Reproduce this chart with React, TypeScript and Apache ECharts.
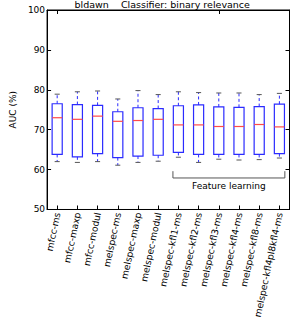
import React, { useEffect, useRef } from "react";
import * as echarts from "echarts";

const categories = [
  "mfcc-ms", "mfcc-maxp", "mfcc-modul", "melspec-ms", "melspec-maxp", "melspec-modul",
  "melspec-kfl1-ms", "melspec-kfl2-ms", "melspec-kfl3-ms", "melspec-kfl4-ms", "melspec-kfl8-ms",
  "melspec-kfl4pl8kfl4-ms",
];
const lows = [62.0, 61.8, 62.0, 61.1, 61.8, 62.1, 63.1, 61.8, 62.6, 62.4, 62.5, 62.9];
const q1s = [63.8, 63.2, 64.0, 63.0, 63.4, 63.6, 64.3, 63.8, 63.8, 63.8, 63.8, 64.0];
const medians = [73.0, 72.6, 73.4, 72.1, 72.3, 72.6, 71.2, 71.2, 70.8, 70.8, 71.3, 70.7];
const q3s = [76.5, 76.3, 76.1, 74.5, 75.5, 75.3, 76.0, 76.2, 75.7, 75.6, 75.8, 76.4];
const highs = [78.9, 79.5, 79.7, 77.7, 79.8, 78.8, 79.5, 79.3, 79.2, 79.2, 78.8, 79.1];
const yTicks = { min: 50, max: 100, interval: 10 };
const titleText = "bldawn    Classifier: binary relevance";
const bracketLabel = "Feature learning";
const bracketFirst = 6;
const bracketLast = 11;
const bracketTopValue = 59.6;
const bracketBottomValue = 57.9;
const bracketTextValue = 56.0;

const FONT = "DejaVu Sans";

export default function App() {
  const ref = useRef<HTMLDivElement>(null);
  useEffect(() => {
    document.body.style.margin = "0";
    const chart = echarts.init(ref.current!, null, { renderer: "svg" });
    const data = categories.map((_, i) => [i, lows[i], q1s[i], medians[i], q3s[i], highs[i]]);
    const blue = "#2b2bff";
    const option: any = {
      animation: false,
      title: {
        text: titleText,
        left: 74.5,
        top: 0,
        padding: 0,
        textStyle: { fontFamily: FONT, fontSize: 9.5, fontWeight: "normal", color: "#000", lineHeight: 9.5 },
      },
      grid: { left: 30.5, right: 3.5, top: 10, bottom: 110, show: true, borderColor: "#000", borderWidth: 1 },
      xAxis: [
        {
          type: "category",
          data: categories,
          boundaryGap: true,
          axisLine: { show: true, lineStyle: { color: "#000" } },
          axisTick: { show: true, inside: true, alignWithLabel: true, length: 4, lineStyle: { color: "#000" } },
          axisLabel: { rotate: 78, fontFamily: FONT, fontSize: 9.2, color: "#000", margin: 3, interval: 0 },
          splitLine: { show: false },
        },
        {
          type: "category",
          data: categories,
          position: "top",
          boundaryGap: true,
          axisLine: { show: true, lineStyle: { color: "#000" } },
          axisTick: { show: true, inside: true, alignWithLabel: true, length: 4, lineStyle: { color: "#000" } },
          axisLabel: { show: false },
          splitLine: { show: false },
        },
      ],
      yAxis: [
        {
          type: "value",
          min: yTicks.min,
          max: yTicks.max,
          interval: yTicks.interval,
          name: "AUC (%)",
          nameLocation: "middle",
          nameGap: 28,
          nameTextStyle: { fontFamily: FONT, fontSize: 9, color: "#000" },
          axisLine: { show: true, lineStyle: { color: "#000" } },
          axisTick: { show: true, inside: true, length: 4, lineStyle: { color: "#000" } },
          axisLabel: { fontFamily: FONT, fontSize: 9, color: "#000", margin: 2 },
          splitLine: { show: false },
        },
        {
          type: "value",
          position: "right",
          min: yTicks.min,
          max: yTicks.max,
          interval: yTicks.interval,
          axisLine: { show: true, lineStyle: { color: "#000" } },
          axisTick: { show: true, inside: true, length: 4, lineStyle: { color: "#000" } },
          axisLabel: { show: false },
          splitLine: { show: false },
        },
      ],
      series: [
        {
          type: "custom",
          xAxisIndex: 0,
          yAxisIndex: 0,
          data,
          encode: { x: 0, y: [1, 2, 3, 4, 5] },
          renderItem: (params: any, api: any) => {
            const idx = api.value(0);
            const lo = api.coord([idx, api.value(1)]);
            const q1 = api.coord([idx, api.value(2)]);
            const md = api.coord([idx, api.value(3)]);
            const q3 = api.coord([idx, api.value(4)]);
            const hi = api.coord([idx, api.value(5)]);
            const band = api.size([1, 0])[0];
            const hw = band * 0.25;
            const cw = band * 0.125;
            const cx = lo[0];
            return {
              type: "group",
              children: [
                { type: "line", shape: { x1: cx, y1: q3[1], x2: cx, y2: hi[1] }, style: { stroke: blue, lineWidth: 1, lineDash: [3, 2.5] } },
                { type: "line", shape: { x1: cx, y1: q1[1], x2: cx, y2: lo[1] }, style: { stroke: blue, lineWidth: 1, lineDash: [3, 2.5] } },
                { type: "line", shape: { x1: cx - cw, y1: hi[1], x2: cx + cw, y2: hi[1] }, style: { stroke: "#555", lineWidth: 1 } },
                { type: "line", shape: { x1: cx - cw, y1: lo[1], x2: cx + cw, y2: lo[1] }, style: { stroke: "#555", lineWidth: 1 } },
                { type: "rect", shape: { x: cx - hw, y: q3[1], width: hw * 2, height: q1[1] - q3[1] }, style: { fill: "none", stroke: blue, lineWidth: 1.2 } },
                { type: "line", shape: { x1: cx - hw, y1: md[1], x2: cx + hw, y2: md[1] }, style: { stroke: "#ff4a4a", lineWidth: 1.2 } },
              ],
            };
          },
        },
      ],
    };
    chart.setOption(option);
    const p0 = chart.convertToPixel({ xAxisIndex: 0, yAxisIndex: 0 }, [bracketFirst, bracketTopValue]) as number[];
    const p1 = chart.convertToPixel({ xAxisIndex: 0, yAxisIndex: 0 }, [bracketLast, bracketBottomValue]) as number[];
    const pT = chart.convertToPixel({ xAxisIndex: 0, yAxisIndex: 0 }, [0, bracketTextValue]) as number[];
    const pA = chart.convertToPixel({ xAxisIndex: 0, yAxisIndex: 0 }, [0, 60]) as number[];
    const pB = chart.convertToPixel({ xAxisIndex: 0, yAxisIndex: 0 }, [1, 60]) as number[];
    const hw = (pB[0] - pA[0]) * 0.27;
    const xl = p0[0] - hw;
    const xr = p1[0] + hw;
    chart.setOption({
      graphic: [
        {
          type: "polyline",
          shape: { points: [[xl, p0[1]], [xl, p1[1]], [xr, p1[1]], [xr, p0[1]]] },
          style: { stroke: "#555", lineWidth: 1, fill: "none" },
        },
        {
          type: "text",
          x: (xl + xr) / 2,
          y: pT[1],
          style: { text: bracketLabel, font: `9px "${FONT}"`, fill: "#000", align: "center", verticalAlign: "middle" },
        },
      ],
    });
    return () => chart.dispose();
  }, []);
  return <div ref={ref} style={{ width: 293, height: 321 }} />;
}
